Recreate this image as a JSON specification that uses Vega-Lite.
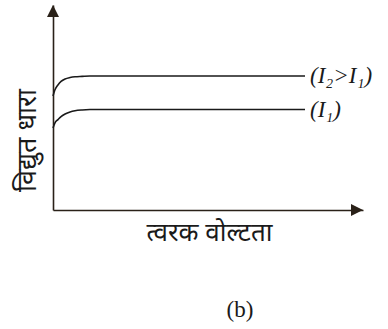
{
  "$schema": "https://vega.github.io/schema/vega-lite/v6.json",
  "width": 310,
  "height": 205,
  "padding": {"left": 53, "top": 5, "right": 25, "bottom": 119},
  "autosize": {"type": "none"},
  "background": "white",
  "config": {"view": {"stroke": null}},
  "datasets": {
    "curves": [
      {"series": "I2", "voltage": 0, "current": 5.56},
      {"series": "I2", "voltage": 0.06, "current": 5.85},
      {"series": "I2", "voltage": 0.16, "current": 6.10},
      {"series": "I2", "voltage": 0.26, "current": 6.27},
      {"series": "I2", "voltage": 0.39, "current": 6.39},
      {"series": "I2", "voltage": 0.55, "current": 6.46},
      {"series": "I2", "voltage": 0.71, "current": 6.50},
      {"series": "I2", "voltage": 0.94, "current": 6.52},
      {"series": "I2", "voltage": 1.19, "current": 6.54},
      {"series": "I2", "voltage": 8.13, "current": 6.54},
      {"series": "I1", "voltage": 0, "current": 4.0},
      {"series": "I1", "voltage": 0.06, "current": 4.24},
      {"series": "I1", "voltage": 0.16, "current": 4.41},
      {"series": "I1", "voltage": 0.26, "current": 4.56},
      {"series": "I1", "voltage": 0.39, "current": 4.68},
      {"series": "I1", "voltage": 0.55, "current": 4.78},
      {"series": "I1", "voltage": 0.71, "current": 4.84},
      {"series": "I1", "voltage": 0.94, "current": 4.88},
      {"series": "I1", "voltage": 1.19, "current": 4.90},
      {"series": "I1", "voltage": 8.13, "current": 4.90}
    ],
    "one": [{}]
  },
  "layer": [
    {
      "data": {"name": "curves"},
      "mark": {"type": "line", "interpolate": "monotone", "color": "#1a1a1a", "strokeWidth": 1.6},
      "encoding": {
        "x": {
          "field": "voltage", "type": "quantitative",
          "scale": {"domain": [0, 10], "nice": false, "zero": false},
          "axis": {
            "domain": true, "domainColor": "#2a2118", "domainWidth": 1.6,
            "ticks": false, "labels": false, "grid": false,
            "title": "त्वरक वोल्टता", "titleFont": "Noto Sans", "titleFontSize": 26,
            "titleFontWeight": "normal", "titleColor": "#1a1a1a",
            "titleBaseline": "middle", "titleY": 22, "titleX": 156
          }
        },
        "y": {
          "field": "current", "type": "quantitative",
          "scale": {"domain": [0, 10], "nice": false, "zero": false},
          "axis": {
            "domain": true, "domainColor": "#2a2118", "domainWidth": 1.6,
            "ticks": false, "labels": false, "grid": false,
            "title": "विद्युत धारा", "titleFont": "Noto Sans", "titleFontSize": 27,
            "titleFontWeight": "normal", "titleColor": "#1a1a1a",
            "titleBaseline": "middle", "titleX": -26, "titleY": 135
          }
        },
        "detail": {"field": "series"}
      }
    },
    {
      "data": {"name": "one"},
      "mark": {"type": "point", "shape": "M 0 0 L -1 -0.5 L -1 0.5 Z", "filled": true, "size": 576, "color": "#2a2118", "opacity": 1},
      "encoding": {"x": {"datum": 10}, "y": {"datum": 0}}
    },
    {
      "data": {"name": "one"},
      "mark": {"type": "point", "shape": "M 0 0 L -0.5 1 L 0.5 1 Z", "filled": true, "size": 576, "color": "#2a2118", "opacity": 1},
      "encoding": {"x": {"datum": 0}, "y": {"datum": 10}}
    },
    {
      "data": {"name": "one"},
      "mark": {"type": "text", "text": "(I₂>I₁)", "font": "Liberation Serif", "fontSize": 23, "fontStyle": "italic", "align": "left", "baseline": "middle", "color": "#1a1a1a"},
      "encoding": {"x": {"datum": 8.29}, "y": {"datum": 6.54}}
    },
    {
      "data": {"name": "one"},
      "mark": {"type": "text", "text": "(I₁)", "font": "Liberation Serif", "fontSize": 23, "fontStyle": "italic", "align": "left", "baseline": "middle", "color": "#1a1a1a"},
      "encoding": {"x": {"datum": 8.29}, "y": {"datum": 4.90}}
    },
    {
      "data": {"name": "one"},
      "mark": {"type": "text", "text": "(b)", "font": "Liberation Serif", "fontSize": 23, "align": "center", "baseline": "middle", "color": "#1a1a1a"},
      "encoding": {"x": {"datum": 6.03}, "y": {"datum": -4.88}}
    }
  ]
}
